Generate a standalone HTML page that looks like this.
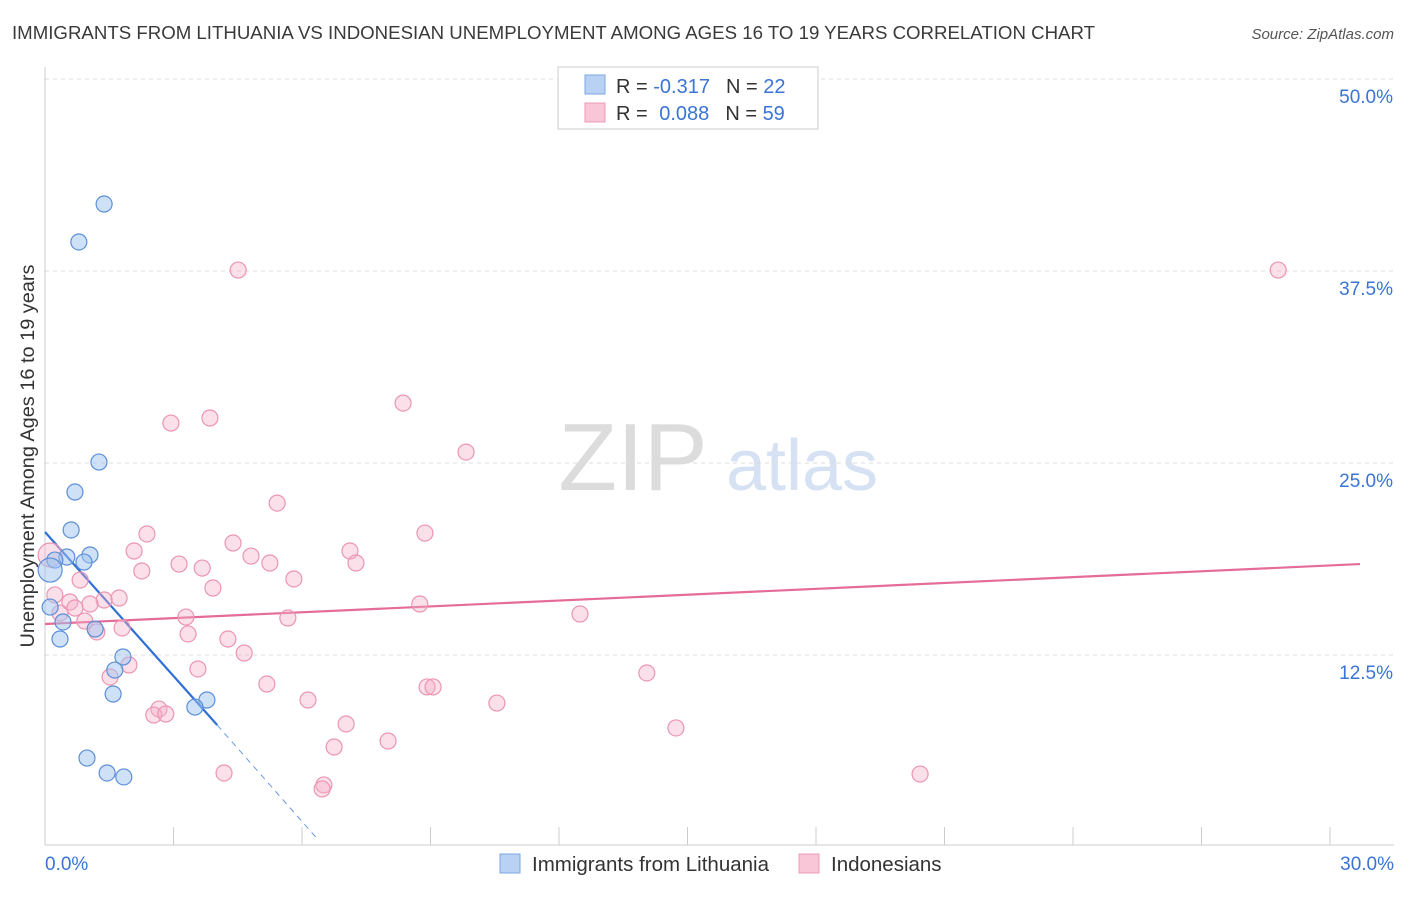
<!DOCTYPE html>
<html><head><meta charset="utf-8"><style>
body{margin:0;background:#fff;font-family:"Liberation Sans",sans-serif;}
svg text{font-family:"Liberation Sans",sans-serif;}
</style></head><body>
<svg id="chart" width="1406" height="892" viewBox="0 0 1406 892" xmlns="http://www.w3.org/2000/svg">
<text x="12" y="39" font-size="18.5" fill="#3a3a3a" textLength="1083" lengthAdjust="spacingAndGlyphs">IMMIGRANTS FROM LITHUANIA VS INDONESIAN UNEMPLOYMENT AMONG AGES 16 TO 19 YEARS CORRELATION CHART</text>
<text x="1394" y="39" font-size="15" fill="#555" text-anchor="end" font-style="italic">Source: ZipAtlas.com</text>
<g>
<text x="633" y="490" font-size="96" fill="#dcdcdc" text-anchor="middle" font-family="Liberation Serif, serif">ZIP</text>
<text x="802" y="490" font-size="72" fill="#d6e2f3" text-anchor="middle">atlas</text>
</g>
<g id="grid"></g>
<g id="axes"></g>
<text transform="translate(34,456) rotate(-90)" font-size="19" fill="#333" text-anchor="middle" textLength="383" lengthAdjust="spacingAndGlyphs">Unemployment Among Ages 16 to 19 years</text>
<g id="lines"></g>
<g id="pts"></g>
<g>
<rect x="558" y="67" width="260" height="62" fill="#fff" stroke="#ccc"/>
<rect x="585" y="75" width="20" height="19" fill="#b9d2f3" stroke="#7aa7e3"/>
<rect x="585" y="103" width="20" height="19" fill="#f8c6d6" stroke="#ec9bb5"/>
<text x="616" y="93" font-size="20" fill="#333">R = <tspan fill="#3a74d4">-0.317</tspan><tspan dx="16">N = </tspan><tspan fill="#3a74d4">22</tspan></text>
<text x="616" y="120" font-size="20" fill="#333">R = <tspan fill="#3a74d4" dx="6">0.088</tspan><tspan dx="16">N = </tspan><tspan fill="#3a74d4">59</tspan></text>
</g>
<g>
<rect x="500" y="854" width="20" height="19" fill="#b9d2f3" stroke="#7aa7e3"/>
<text x="532" y="871" font-size="20.5" fill="#333">Immigrants from Lithuania</text>
<rect x="799" y="854" width="20" height="19" fill="#f8c6d6" stroke="#ec9bb5"/>
<text x="831" y="871" font-size="20.5" fill="#333">Indonesians</text>
</g>
</svg>
<script>
const xTicks=[0,3,6,9,12,15,18,21,24,27,30];
const yTicks=[12.5,25,37.5,50];
const yTickLabels=["12.5%","25.0%","37.5%","50.0%"];
const blueX=[1.38,0.79,1.26,0.70,0.61,0.51,1.05,0.91,0.23,0.12,0.12,0.42,0.35,1.17,1.82,1.63,1.59,3.78,3.50,0.98,1.45,1.84];
const blueY=[41.86,39.39,25.06,23.11,20.64,18.88,19.01,18.55,18.68,18.03,15.62,14.65,13.54,14.19,12.37,11.52,9.96,9.57,9.11,5.79,4.82,4.56];
const pinkX=[4.51,28.79,8.36,3.85,2.94,9.83,5.42,8.87,2.38,4.39,2.08,7.12,4.81,3.13,2.26,7.26,5.25,3.67,0.82,5.81,3.92,1.73,1.38,1.05,0.58,8.75,0.70,3.29,12.49,5.67,0.93,1.21,1.80,3.34,4.27,4.65,3.57,1.96,14.05,1.52,5.18,8.92,9.06,6.14,10.55,2.66,2.54,2.82,7.03,14.73,8.01,6.75,4.18,20.43,6.51,6.47,0.23,0.12,0.35];
const pinkY=[37.56,37.56,28.90,27.93,27.60,25.71,22.39,20.44,20.38,19.79,19.27,19.27,18.94,18.42,17.97,18.49,18.49,18.16,17.38,17.45,16.86,16.21,16.08,15.82,15.95,15.82,15.56,14.97,15.17,14.91,14.71,14.00,14.26,13.87,13.54,12.63,11.59,11.85,11.33,11.07,10.61,10.42,10.42,9.57,9.37,8.98,8.59,8.66,8.01,7.75,6.90,6.51,4.82,4.75,4.04,3.78,16.41,19.01,15.23];
const blueTrend=[[0,20.51],[4.02,7.94]];
const blueTrendDash=[[4.02,7.94],[6.38,0.46]];
const pinkTrend=[[0,14.52],[30.7,18.42]];
const NS="http://www.w3.org/2000/svg";
const sx=v=>45+v*(1285/30);
const sy=v=>847-v*15.36;
function mk(tag,attrs,parent){const e=document.createElementNS(NS,tag);for(const k in attrs)e.setAttribute(k,attrs[k]);document.getElementById(parent).appendChild(e);return e;}
yTicks.forEach((t,i)=>{
 const g=mk('line',{x1:45,x2:1394,y1:sy(t),y2:sy(t),stroke:'#ddd','stroke-dasharray':'4,4'},'grid');
 
 
 const tx=mk('text',{x:1393,y:sy(t)+24,'font-size':19,fill:'#3a74d4','text-anchor':'end'},'axes');
 tx.textContent=yTickLabels[i];
 
 
});
const ax=mk('line',{x1:45,x2:1394,y1:845,y2:845,stroke:'#ccc'},'axes');


const ay=mk('line',{x1:45,x2:45,y1:67,y2:845,stroke:'#ccc'},'axes');


xTicks.forEach(t=>{
 const l=mk('line',{x1:sx(t),x2:sx(t),y1:827,y2:845,stroke:'#ccc'},'axes');
 
 
});
const xl0=mk('text',{x:45,y:870,'font-size':19,fill:'#3a74d4'},'axes');xl0.textContent=xTicks[0].toFixed(1)+'%';


const xl1=mk('text',{x:1394,y:870,'font-size':19,fill:'#3a74d4','text-anchor':'end'},'axes');xl1.textContent=xTicks[xTicks.length-1].toFixed(1)+'%';


pinkX.forEach((x,i)=>{
 const c=mk('circle',{cx:sx(x),cy:sy(pinkY[i]),r:(i==57?12:8),fill:'rgba(245,175,200,0.4)',stroke:'#eb95b2','stroke-width':1.2},'pts');
 
 
});
blueX.forEach((x,i)=>{
 const c=mk('circle',{cx:sx(x),cy:sy(blueY[i]),r:(i==9?12:8),fill:'rgba(160,195,240,0.5)',stroke:'#5b8fd8','stroke-width':1.2},'pts');
 
 
});
const b1=mk('line',{x1:sx(blueTrend[0][0]),y1:sy(blueTrend[0][1]),x2:sx(blueTrend[1][0]),y2:sy(blueTrend[1][1]),stroke:'#2f6fd6','stroke-width':2.2},'lines');


const b2=mk('line',{x1:sx(blueTrendDash[0][0]),y1:sy(blueTrendDash[0][1]),x2:sx(blueTrendDash[1][0]),y2:sy(blueTrendDash[1][1]),stroke:'#6a9ae0','stroke-width':1,'stroke-dasharray':'6,5'},'lines');


const p1=mk('line',{x1:sx(pinkTrend[0][0]),y1:sy(pinkTrend[0][1]),x2:sx(pinkTrend[1][0]),y2:sy(pinkTrend[1][1]),stroke:'#e56b98','stroke-width':2.2},'lines');


</script>
</body></html>
